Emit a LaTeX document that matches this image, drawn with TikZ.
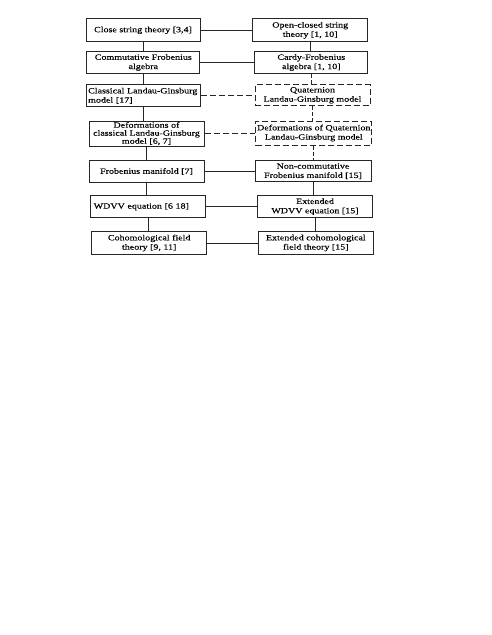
\documentclass[tikz,border=0pt]{standalone}
\usepackage{fontspec}
\setmainfont{Liberation Serif}[FakeStretch=1.25,FakeBold=0.25]
\begin{document}
\begin{tikzpicture}[x=1pt,y=-1pt,
  box/.style={draw=black!85, line width=1pt, rectangle, inner sep=0pt,
    align=center, font=\fontsize{8}{9.3}\selectfont},
  dbox/.style={box, dash pattern=on 6pt off 3pt},
  link/.style={draw=black!85, line width=1pt},
  dlink/.style={link, dash pattern=on 6pt off 3pt}]
\path[use as bounding box] (0,0) rectangle (491,635);
% left column
\node[box, minimum width=114pt, minimum height=22.7pt] (l1) at (143,30.3) {Close string theory [3,4]};
\node[box, minimum width=113.3pt, minimum height=21.6pt] (l2) at (143.3,62.5) {Commutative Frobenius\\algebra};
\node[box, minimum width=114pt, minimum height=21.7pt, text width=111pt, align=left] (l3) at (143.7,95.8) {Classical Landau-Ginsburg\\ model [17]};
\node[box, minimum width=115pt, minimum height=25pt, font=\fontsize{8}{8}\selectfont] (l4) at (146.5,133.5) {Deformations of\\classical Landau-Ginsburg\\model [6, 7]};
\node[box, minimum width=115pt, minimum height=21.6pt] (l5) at (146.5,171.5) {Frobenius manifold [7]};
\node[box, minimum width=115pt, minimum height=22pt, text width=109pt, align=left] (l6) at (148.2,206.7) {WDVV equation [6 18]};
\node[box, minimum width=115pt, minimum height=23pt] (l7) at (149.2,243) {Cohomological field\\theory [9, 11]};
% right column
\node[box, minimum width=115pt, minimum height=22.7pt] (r1) at (310.2,30.3) {Open-closed string\\theory [1, 10]};
\node[box, minimum width=112.7pt, minimum height=21.6pt] (r2) at (311.3,62.5) {Cardy-Frobenius\\algebra [1, 10]};
\node[dbox, minimum width=115pt, minimum height=21pt] (r3) at (312.5,95.3) {Quaternion\\Landau-Ginsburg model};
\node[dbox, minimum width=115.7pt, minimum height=24pt] (r4) at (313.8,133) {Deformations of Quaternion\\Landau-Ginsburg model};
\node[box, minimum width=116pt, minimum height=21pt] (r5) at (313,171.2) {Non-commutative\\Frobenius manifold [15]};
\node[box, minimum width=115.4pt, minimum height=22pt] (r6) at (315,206.7) {Extended\\WDVV equation [15]};
\node[box, minimum width=115pt, minimum height=23pt] (r7) at (315.8,243) {Extended cohomological\\field theory [15]};
% vertical connectors
\foreach \a/\b in {l1/l2,l2/l3,l3/l4,l4/l5,l5/l6,l6/l7,r5/r6,r6/r7}
  \draw[link] (\a.south) -- (\a.south |- \b.north);
\foreach \a/\b in {r2/r3,r3/r4,r4/r5}
  \draw[dlink, dash pattern=on 4pt off 2pt] (\a.south) -- (\a.south |- \b.north);
\draw[link] (r1.south) -- (r1.south |- r2.north);
% horizontal connectors
\foreach \a/\b in {l1/r1,l2/r2,l5/r5,l6/r6,l7/r7}
  \draw[link] (\a.east) -- (\a.east -| \b.west);
\foreach \a/\b in {l3/r3,l4/r4}
  \draw[dlink] (\a.east) -- (\a.east -| \b.west);
\end{tikzpicture}
\end{document}
